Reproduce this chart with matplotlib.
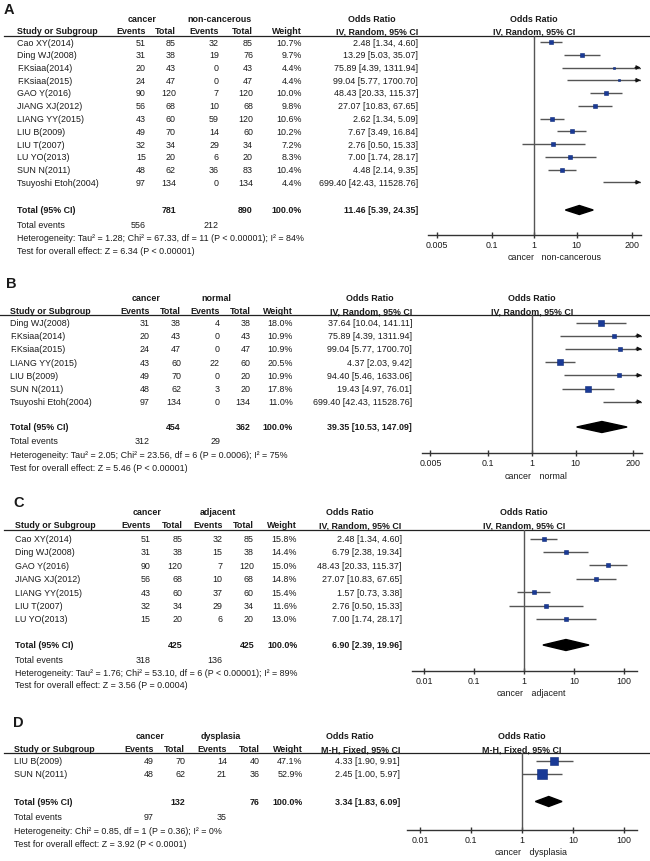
import numpy as np
import matplotlib
matplotlib.use("Agg")
import matplotlib.pyplot as plt
from matplotlib.patches import Polygon

plt.rcParams['font.family'] = ['Liberation Sans', 'DejaVu Sans']

# ---- data: panel A (cancer vs non-cancerous) ----
a_names = ["Cao XY(2014)", "Ding WJ(2008)", "F.Ksiaa(2014)", "F.Ksiaa(2015)", "GAO Y(2016)",
           "JIANG XJ(2012)", "LIANG YY(2015)", "LIU B(2009)", "LIU T(2007)", "LU YO(2013)",
           "SUN N(2011)", "Tsuyoshi Etoh(2004)"]
a_ev1 = [51, 31, 20, 24, 90, 56, 43, 49, 32, 15, 48, 97]
a_tot1 = [85, 38, 43, 47, 120, 68, 60, 70, 34, 20, 62, 134]
a_ev2 = [32, 19, 0, 0, 7, 10, 59, 14, 29, 6, 36, 0]
a_tot2 = [85, 76, 43, 47, 120, 68, 120, 60, 34, 20, 83, 134]
a_weight = [10.7, 9.7, 4.4, 4.4, 10.0, 9.8, 10.6, 10.2, 7.2, 8.3, 10.4, 4.4]
a_or = [2.48, 13.29, 75.89, 99.04, 48.43, 27.07, 2.62, 7.67, 2.76, 7.00, 4.48, 699.40]
a_lo = [1.34, 5.03, 4.39, 5.77, 20.33, 10.83, 1.34, 3.49, 0.50, 1.74, 2.14, 42.43]
a_hi = [4.60, 35.07, 1311.94, 1700.70, 115.37, 67.65, 5.09, 16.84, 15.33, 28.17, 9.35, 11528.76]
a_pooled = [11.46, 5.39, 24.35]
a_het = "Heterogeneity: Tau\u00b2 = 1.28; Chi\u00b2 = 67.33, df = 11 (P < 0.00001); I\u00b2 = 84%"
a_test = "Test for overall effect: Z = 6.34 (P < 0.00001)"
a_ticks = [0.005, 0.1, 1, 10, 200]

# ---- data: panel B (cancer vs normal) ----
b_names = ["Ding WJ(2008)", "F.Ksiaa(2014)", "F.Ksiaa(2015)", "LIANG YY(2015)", "LIU B(2009)",
           "SUN N(2011)", "Tsuyoshi Etoh(2004)"]
b_ev1 = [31, 20, 24, 43, 49, 48, 97]
b_tot1 = [38, 43, 47, 60, 70, 62, 134]
b_ev2 = [4, 0, 0, 22, 0, 3, 0]
b_tot2 = [38, 43, 47, 60, 20, 20, 134]
b_weight = [18.0, 10.9, 10.9, 20.5, 10.9, 17.8, 11.0]
b_or = [37.64, 75.89, 99.04, 4.37, 94.40, 19.43, 699.40]
b_lo = [10.04, 4.39, 5.77, 2.03, 5.46, 4.97, 42.43]
b_hi = [141.11, 1311.94, 1700.70, 9.42, 1633.06, 76.01, 11528.76]
b_pooled = [39.35, 10.53, 147.09]
b_het = "Heterogeneity: Tau\u00b2 = 2.05; Chi\u00b2 = 23.56, df = 6 (P = 0.0006); I\u00b2 = 75%"
b_test = "Test for overall effect: Z = 5.46 (P < 0.00001)"
b_ticks = [0.005, 0.1, 1, 10, 200]

# ---- data: panel C (cancer vs adjacent) ----
c_names = ["Cao XY(2014)", "Ding WJ(2008)", "GAO Y(2016)", "JIANG XJ(2012)", "LIANG YY(2015)",
           "LIU T(2007)", "LU YO(2013)"]
c_ev1 = [51, 31, 90, 56, 43, 32, 15]
c_tot1 = [85, 38, 120, 68, 60, 34, 20]
c_ev2 = [32, 15, 7, 10, 37, 29, 6]
c_tot2 = [85, 38, 120, 68, 60, 34, 20]
c_weight = [15.8, 14.4, 15.0, 14.8, 15.4, 11.6, 13.0]
c_or = [2.48, 6.79, 48.43, 27.07, 1.57, 2.76, 7.00]
c_lo = [1.34, 2.38, 20.33, 10.83, 0.73, 0.50, 1.74]
c_hi = [4.60, 19.34, 115.37, 67.65, 3.38, 15.33, 28.17]
c_pooled = [6.90, 2.39, 19.96]
c_het = "Heterogeneity: Tau\u00b2 = 1.76; Chi\u00b2 = 53.10, df = 6 (P < 0.00001); I\u00b2 = 89%"
c_test = "Test for overall effect: Z = 3.56 (P = 0.0004)"
c_ticks = [0.01, 0.1, 1, 10, 100]

# ---- data: panel D (cancer vs dysplasia) ----
d_names = ["LIU B(2009)", "SUN N(2011)"]
d_ev1 = [49, 48]
d_tot1 = [70, 62]
d_ev2 = [14, 21]
d_tot2 = [40, 36]
d_weight = [47.1, 52.9]
d_or = [4.33, 2.45]
d_lo = [1.90, 1.00]
d_hi = [9.91, 5.97]
d_pooled = [3.34, 1.83, 6.09]
d_het = "Heterogeneity: Chi\u00b2 = 0.85, df = 1 (P = 0.36); I\u00b2 = 0%"
d_test = "Test for overall effect: Z = 3.92 (P < 0.0001)"
d_ticks = [0.01, 0.1, 1, 10, 100]

W, H = 650, 862
FS = 6.4
TXT = '#1a1a1a'
fig = plt.figure(figsize=(W / 100, H / 100), dpi=100)
bg = fig.add_axes([0, 0, 1, 1])
bg.set_xlim(0, W)
bg.set_ylim(H, 0)
bg.axis('off')


def t(x, y, s, ha='left', bold=False, size=FS):
    bg.text(x, y, s, ha=ha, va='center', fontsize=size, color=TXT,
            fontweight='bold' if bold else 'normal')


def panel(letter, grp, method, names, ev1, tot1, ev2, tot2, weight, ors, lo, hi,
          pooled, het, test, ticks, lay, marker_fixed=False):
    c = lay['cols']
    t(lay['lx'], lay['ly'], letter, bold=True, size=10.5)
    # header
    t(lay['h1c'][0], lay['h1'], 'cancer', ha='center', bold=True)
    t(lay['h1c'][1], lay['h1'], grp, ha='center', bold=True)
    t(lay['h1c'][2], lay['h1'], 'Odds Ratio', ha='center', bold=True)
    t(c[0], lay['h2'], 'Study or Subgroup', bold=True)
    for x, s in zip(c[1:], ['Events', 'Total', 'Events', 'Total', 'Weight', method]):
        t(x, lay['h2'], s, ha='right', bold=True)
    t(lay['cx'], lay['h1'], 'Odds Ratio', ha='center', bold=True)
    t(lay['cx'], lay['h2'], method, ha='center', bold=True)
    bg.plot([lay['ulx'], W], [lay['ul'], lay['ul']], color='#222222', lw=0.9)

    ys = [lay['first'] + i * lay['step'] for i in range(len(names))]
    for i, y in enumerate(ys):
        t(c[0], y, names[i])
        t(c[1], y, str(ev1[i]), ha='right')
        t(c[2], y, str(tot1[i]), ha='right')
        t(c[3], y, str(ev2[i]), ha='right')
        t(c[4], y, str(tot2[i]), ha='right')
        t(c[5], y, f"{weight[i]:.1f}%", ha='right')
        t(c[6], y, f"{ors[i]:.2f} [{lo[i]:.2f}, {hi[i]:.2f}]", ha='right')

    yt = lay['total']
    t(c[0], yt, 'Total (95% CI)', bold=True)
    t(c[2], yt, str(sum(tot1)), ha='right', bold=True)
    t(c[4], yt, str(sum(tot2)), ha='right', bold=True)
    t(c[5], yt, '100.0%', ha='right', bold=True)
    t(c[6], yt, f"{pooled[0]:.2f} [{pooled[1]:.2f}, {pooled[2]:.2f}]", ha='right', bold=True)
    t(c[0], lay['events'], 'Total events')
    t(c[1], lay['events'], str(sum(ev1)), ha='right')
    t(c[3], lay['events'], str(sum(ev2)), ha='right')
    t(c[0], lay['het'], het)
    t(c[0], lay['test'], test)

    # forest plot axes
    L = lay['L']
    x0 = lay['cx'] - lay['dec'] * L
    x1 = lay['cx'] + lay['dec'] * L
    ax = fig.add_axes([x0 / W, 1 - lay['axis'] / H, (x1 - x0) / W, (lay['axis'] - lay['ul']) / H])
    ax.set_xscale('log')
    xmin, xmax = 10 ** -L, 10 ** L
    ax.set_xlim(xmin, xmax)
    ax.set_ylim(lay['axis'], lay['ul'])
    ax.patch.set_alpha(0)
    for s in ['top', 'left', 'right']:
        ax.spines[s].set_visible(False)
    ax.spines['bottom'].set_color('#333333')
    ax.spines['bottom'].set_linewidth(1.0)
    ax.set_yticks([])
    ax.set_xticks(ticks)
    ax.set_xticklabels([f"{v:g}" for v in ticks])
    ax.minorticks_off()
    ax.tick_params(axis='x', direction='inout', length=4.5, width=1.0, color='#333333',
                   labelsize=FS, labelcolor=TXT, pad=1.5)
    ax.axvline(1, color='#555555', lw=1.0)

    for i, y in enumerate(ys):
        a, b = max(lo[i], xmin), min(hi[i], xmax)
        ax.plot([a, b], [y, y], color='#555555', lw=1.0, solid_capstyle='butt')
        if hi[i] > xmax:
            ax.annotate('', xy=(xmax, y), xytext=(xmax / 1.35, y),
                        arrowprops=dict(arrowstyle='-|>', color='#111111', lw=0.8,
                                        mutation_scale=6, shrinkA=0, shrinkB=0))
        if xmin < ors[i] < xmax:
            side = 1.25 * np.sqrt(weight[i]) * 0.72
            ax.plot(ors[i], y, 's', ms=side, color='#1a3a96', mec='#0d2a7a', mew=0.4, zorder=4)

    h = lay['dh']
    ax.add_patch(Polygon([(pooled[1], yt), (pooled[0], yt - h), (pooled[2], yt), (pooled[0], yt + h)],
                         closed=True, color='black', zorder=4))

    off = lay['sidelab'] - lay['axis']
    tr = ax.get_xaxis_transform()
    frac = -off / (lay['axis'] - lay['ul'])
    ax.text(1, frac, 'cancer', transform=tr, ha='right', va='center', fontsize=FS, color=TXT)
    ax.text(1, frac, '   ' + grp, transform=tr, ha='left', va='center', fontsize=FS, color=TXT)


lay_a = dict(lx=4, ly=10, h1=19, h2=32, ul=37, ulx=4, first=43, step=12.75, total=211,
             events=225.5, het=239, test=252, axis=236, sidelab=258,
             cols=[17, 146, 176, 219, 253, 302, 418], h1c=[142, 219, 372],
             cx=534.3, dec=42.5, L=2.5, dh=4.5)
lay_b = dict(lx=6, ly=284, h1=299, h2=312, ul=316, ulx=0, first=323.5, step=13.2, total=428,
             events=442, het=455.5, test=469, axis=454, sidelab=477,
             cols=[10, 149.5, 181, 220, 250.7, 293, 412], h1c=[146, 216, 370],
             cx=531.7, dec=44, L=2.5, dh=5.5)
lay_c = dict(lx=13, ly=503, h1=512.5, h2=525.7, ul=530.7, ulx=4, first=539.5, step=13.4, total=646,
             events=660.5, het=673.3, test=685.5, axis=671.7, sidelab=694,
             cols=[15, 150.7, 182.7, 222.7, 254, 297.3, 401.7], h1c=[146.7, 218, 350],
             cx=524, dec=50, L=2.25, dh=5.5)
lay_d = dict(lx=13, ly=723, h1=736.5, h2=750, ul=754.3, ulx=4, first=762, step=12.8, total=802.5,
             events=818, het=831.5, test=845, axis=830.5, sidelab=853,
             cols=[14, 154, 185, 227, 259.3, 302.7, 400], h1c=[150, 220.7, 350],
             cx=522, dec=51, L=2.25, dh=5)

panel('A', 'non-cancerous', 'IV, Random, 95% CI', a_names, a_ev1, a_tot1, a_ev2, a_tot2,
      a_weight, a_or, a_lo, a_hi, a_pooled, a_het, a_test, a_ticks, lay_a)
panel('B', 'normal', 'IV, Random, 95% CI', b_names, b_ev1, b_tot1, b_ev2, b_tot2,
      b_weight, b_or, b_lo, b_hi, b_pooled, b_het, b_test, b_ticks, lay_b)
panel('C', 'adjacent', 'IV, Random, 95% CI', c_names, c_ev1, c_tot1, c_ev2, c_tot2,
      c_weight, c_or, c_lo, c_hi, c_pooled, c_het, c_test, c_ticks, lay_c)
panel('D', 'dysplasia', 'M-H, Fixed, 95% CI', d_names, d_ev1, d_tot1, d_ev2, d_tot2,
      d_weight, d_or, d_lo, d_hi, d_pooled, d_het, d_test, d_ticks, lay_d)

fig.savefig('out.png', dpi=100)
